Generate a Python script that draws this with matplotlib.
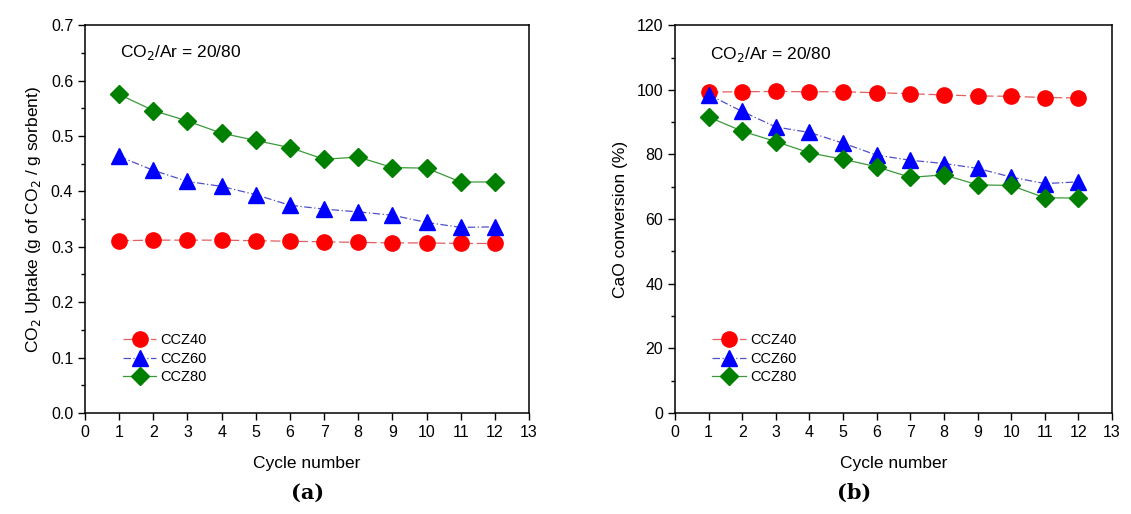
import matplotlib
matplotlib.use("Agg")
import matplotlib.pyplot as plt
from matplotlib.ticker import MultipleLocator

plt.rcParams['font.family'] = ['Liberation Sans', 'DejaVu Sans']

cycles = list(range(1, 13))
labels = ["CCZ40", "CCZ60", "CCZ80"]

uptake_ccz40 = [0.311, 0.312, 0.312, 0.312, 0.311, 0.310, 0.309, 0.308, 0.307, 0.307, 0.306, 0.306]
uptake_ccz60 = [0.463, 0.438, 0.418, 0.409, 0.394, 0.375, 0.368, 0.363, 0.357, 0.344, 0.335, 0.336]
uptake_ccz80 = [0.575, 0.546, 0.527, 0.505, 0.492, 0.479, 0.458, 0.462, 0.443, 0.442, 0.417, 0.417]

conv_ccz40 = [99.3, 99.4, 99.5, 99.4, 99.4, 99.1, 98.8, 98.4, 98.1, 98.0, 97.6, 97.5]
conv_ccz60 = [98.5, 93.3, 88.5, 86.8, 83.5, 79.8, 78.2, 77.2, 75.7, 73.0, 71.0, 71.5]
conv_ccz80 = [91.6, 87.2, 84.0, 80.5, 78.5, 76.2, 72.9, 73.7, 70.6, 70.4, 66.6, 66.5]

styles = [
    dict(color='#ff0000', marker='o', linestyle=(0, (8, 3)), line_color='#e06060'),
    dict(color='#0000ff', marker='^', linestyle=(0, (6, 2, 1, 2)), line_color='#5050c8'),
    dict(color='#008000', marker='D', linestyle='-', line_color='#3a9a3a'),
]

fig = plt.figure(figsize=(11.31, 5.14), dpi=100)
ax1 = fig.add_axes([0.0752, 0.1965, 0.3925, 0.7545])
ax2 = fig.add_axes([0.5968, 0.1965, 0.3864, 0.7545])

def draw(ax, series, ylim, ymajor, yminor, ylabel, ytxt, fmt):
    for vals, st, lab in zip(series, styles, labels):
        ms = 9.5 if st['marker'] == 'D' else 11
        ax.plot(cycles, vals, linestyle=st['linestyle'], color=st['line_color'], lw=0.9,
                marker=st['marker'], markersize=ms, markerfacecolor=st['color'],
                markeredgecolor=st['color'], label=lab)
    ax.set_xlim(0, 13)
    ax.set_ylim(*ylim)
    ax.xaxis.set_major_locator(MultipleLocator(1))
    ax.yaxis.set_major_locator(MultipleLocator(ymajor))
    ax.yaxis.set_minor_locator(MultipleLocator(yminor))
    ax.yaxis.set_major_formatter(fmt)
    ax.tick_params(axis='both', which='major', direction='out', length=5, width=1, labelsize=11.5)
    ax.tick_params(axis='y', which='minor', direction='out', length=3, width=1)
    for sp in ax.spines.values():
        sp.set_linewidth(1.1)
    ax.set_xlabel("Cycle number", fontsize=12.5, labelpad=12)
    ax.set_ylabel(ylabel, fontsize=12.5, labelpad=6)
    ax.text(1.03, ytxt, "CO$_2$/Ar = 20/80", fontsize=12.5, va='center', ha='left')
    ax.legend(loc='upper left', bbox_to_anchor=(0.085, 0.205), frameon=False,
              fontsize=10.5, handlelength=2.3, handletextpad=0.3, labelspacing=0.3,
              borderpad=0, borderaxespad=0)

draw(ax1, [uptake_ccz40, uptake_ccz60, uptake_ccz80], (0, 0.7), 0.1, 0.05,
     "CO$_2$ Uptake (g of CO$_2$ / g sorbent)", 0.65, plt.FormatStrFormatter('%.1f'))
draw(ax2, [conv_ccz40, conv_ccz60, conv_ccz80], (0, 120), 20, 10,
     "CaO conversion (%)", 111, plt.FormatStrFormatter('%d'))

fig.text(0.2715, 0.042, "(a)", fontsize=15, fontweight='bold', family='DejaVu Serif', ha='center', va='center')
fig.text(0.7555, 0.042, "(b)", fontsize=15, fontweight='bold', family='DejaVu Serif', ha='center', va='center')

fig.savefig("out.png", dpi=100)
